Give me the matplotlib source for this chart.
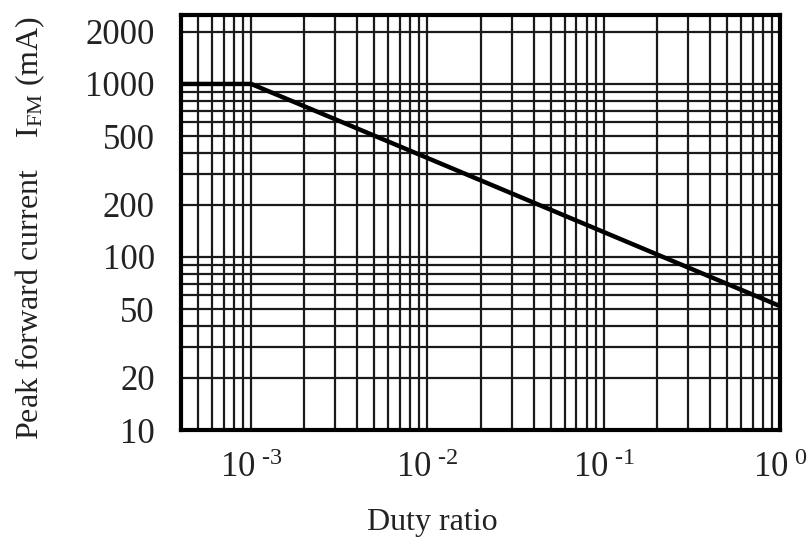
import matplotlib
matplotlib.use("Agg")
import matplotlib.pyplot as plt
import numpy as np

# data
duty = [4e-4, 1e-3, 1.0]
ifm = [1000, 1000, 52]

xticks = [1e-3, 1e-2, 1e-1, 1e0]
xticklabels = ["-3", "-2", "-1", "0"]
yticks = [10, 20, 50, 100, 200, 500, 1000, 2000]

plt.rcParams["font.family"] = "Liberation Serif"
plt.rcParams["mathtext.fontset"] = "custom"
plt.rcParams["mathtext.rm"] = "Liberation Serif"
plt.rcParams["mathtext.it"] = "Liberation Serif"

fig = plt.figure(figsize=(8.1, 5.51), dpi=100)
ax = fig.add_axes([0.2235, 0.2196, 0.7395, 0.753])

ax.plot(duty, ifm, color="black", lw=3.2, solid_capstyle="butt")
ax.set_xscale("log")
ax.set_yscale("log")
ax.set_xlim(4e-4, 1.0)
ax.set_ylim(10, 2500)

ax.grid(True, which="both", color="#1a1a1a", lw=1.6)
ax.set_axisbelow(True)
for s in ax.spines.values():
    s.set_linewidth(3)

ax.set_xticks(xticks)
ax.set_xticklabels([r"$\mathregular{10^{\ \text{%s}}}$" % t for t in xticklabels],
                   fontsize=25, color="#222222")
ax.set_yticks(yticks)
ax.set_yticklabels([str(v) for v in yticks], fontsize=25, color="#222222")
ax.tick_params(which="both", length=0)
ax.tick_params(axis="x", pad=16)
ax.tick_params(axis="y", pad=19)

ax.set_xlabel("Duty ratio", fontsize=23, color="#222222", va="center")
ax.xaxis.set_label_coords(0.42, -0.224)
ax.set_ylabel(r"Peak forward current    I$_{\mathregular{FM}}$ (mA)",
              fontsize=23, color="#222222", va="center")
ax.yaxis.set_label_coords(-0.252, 0.487)

fig.savefig("out.png", dpi=100)
